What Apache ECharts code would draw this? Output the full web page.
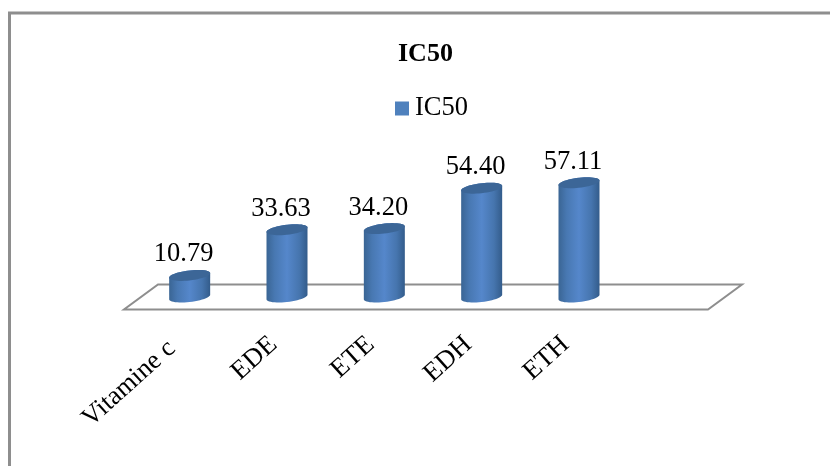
<!DOCTYPE html>
<html><head><meta charset="utf-8">
<style>html,body{margin:0;padding:0;background:#fff}#c{width:830px;height:466px}</style>
<script src="https://cdn.jsdelivr.net/npm/echarts@6/dist/echarts.min.js"></script>
</head><body><div id="c"></div>
<script>
const categories = ['Vitamine c', 'EDE', 'ETE', 'EDH', 'ETH', ''];
const values = [10.79, 33.63, 34.20, 54.40, 57.11];
const seriesName = 'IC50';
const serif = '"Liberation Serif","Times New Roman",serif';

function ellipse(cx, cy, a, b, k, from, to, n) {
  const pts = [];
  for (let i = 0; i <= n; i++) {
    const t = from + (to - from) * i / n;
    pts.push([cx + a * Math.cos(t), cy + b * Math.sin(t) - k * a * Math.cos(t)]);
  }
  return pts;
}
function renderBar(params, api) {
  const i = api.value(0), v = api.value(1);
  const top = api.coord([i, v]), base = api.coord([i, 0]);
  const a = 20.5, b = 5, k = 0.11;
  const body = ellipse(base[0], base[1], a, b, k, 0, Math.PI, 24)
    .concat(ellipse(top[0], top[1], a, b, k, Math.PI, 2 * Math.PI, 24));
  const cap = ellipse(top[0], top[1], a, b, k, 0, 2 * Math.PI, 48);
  const grad = {type: 'linear', x: 0, y: 0, x2: 1, y2: 0, colorStops: [
    {offset: 0, color: '#3a6594'}, {offset: 0.2, color: '#4878b2'},
    {offset: 0.5, color: '#5587cb'}, {offset: 0.8, color: '#4675ae'},
    {offset: 1, color: '#335c8b'}]};
  return {type: 'group', children: [
    {type: 'polygon', shape: {points: body}, style: {fill: grad}},
    {type: 'polygon', shape: {points: cap}, style: {fill: '#3c6697'}},
    {type: 'text', style: {text: v.toFixed(2), x: top[0] - 6, y: top[1] - 21, fill: '#000',
      font: '26.5px ' + serif, align: 'center', verticalAlign: 'middle'}}
  ]};
}
function renderFloor(params, api) {
  const r = params.coordSys;
  const y0 = r.y + r.height, d = 12.5, s = 17;
  return {type: 'polygon', shape: {points: [
    [r.x - s, y0 + d], [r.x + r.width - s, y0 + d],
    [r.x + r.width + s, y0 - d], [r.x + s, y0 - d]]},
    style: {fill: '#fff', stroke: '#8e8e8e', lineWidth: 2}};
}
const chart = echarts.init(document.getElementById('c'), null, {renderer: 'canvas'});
chart.setOption({
  animation: false,
  backgroundColor: '#fff',
  title: {text: seriesName, left: 398, top: 41, padding: 0,
    textStyle: {fontFamily: serif, fontSize: 26, fontWeight: 'bold', color: '#000'}},
  legend: {data: [seriesName], left: 390, top: 90, icon: 'rect', itemWidth: 14, itemHeight: 14, itemGap: 0,
    textStyle: {fontFamily: serif, fontSize: 26.5, color: '#000', padding: [0, 0, 0, 1]}},
  grid: {left: 141, width: 584, top: 97, bottom: 169},
  xAxis: {type: 'category',
    data: categories.map((c, i) => i === 0 ? {value: c, textStyle: {padding: [22, 24, 0, 0]}} : c),
    axisLine: {show: false}, axisTick: {show: false}, splitLine: {show: false},
    axisLabel: {interval: 0, rotate: 42, margin: 32, padding: [0, 18, 0, 0], fontFamily: serif, fontSize: 26.5, color: '#000'}},
  yAxis: {type: 'value', min: 0, max: 100, show: false},
  graphic: [{type: 'polyline', silent: true, shape: {points: [[9.5, 470], [9.5, 13], [834, 13]]},
    style: {fill: 'none', stroke: '#8e8e8e', lineWidth: 3}}],
  series: [
    {name: 'floor', type: 'custom', renderItem: renderFloor, data: [[0, 0]], z: 1, silent: true, clip: false},
    {name: seriesName, type: 'custom', renderItem: renderBar, z: 2, clip: false,
     itemStyle: {color: '#4f81bd'}, encode: {x: 0, y: 1},
     data: values.map((v, i) => [i, v])}
  ]
});
</script></body></html>
